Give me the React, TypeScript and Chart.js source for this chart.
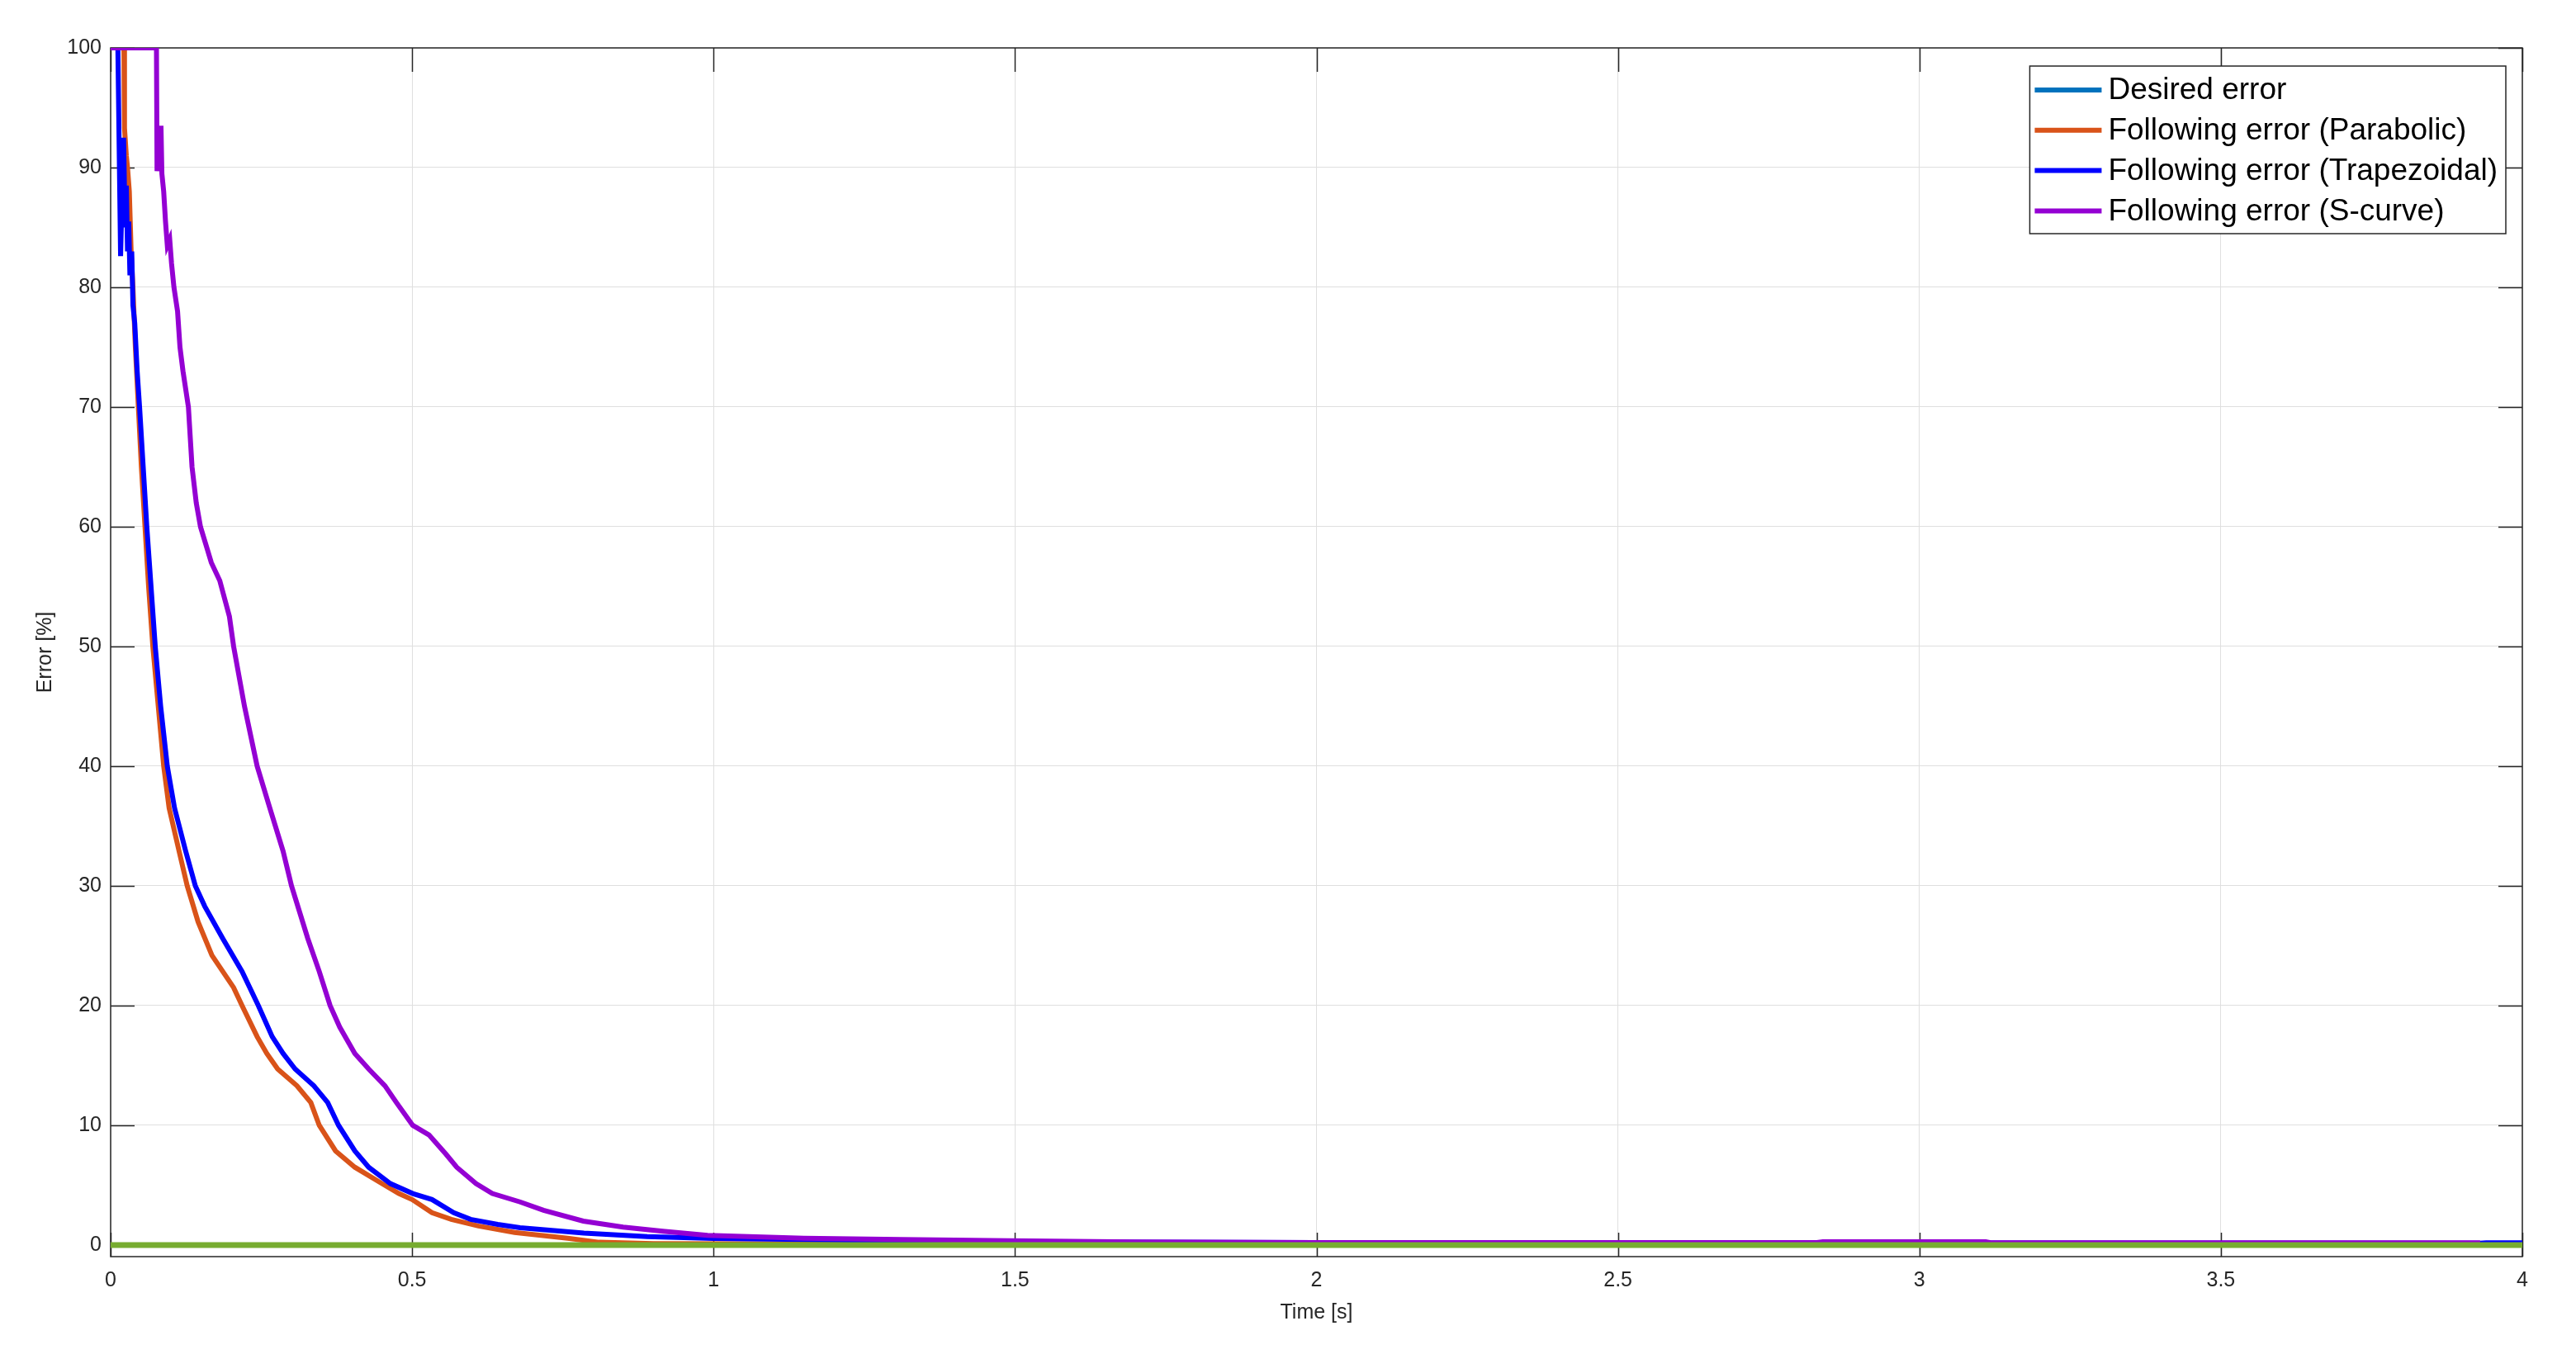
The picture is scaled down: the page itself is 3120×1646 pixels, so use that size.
import React, { useEffect, useRef } from "react";
import { Chart, registerables } from "chart.js";

Chart.register(...registerables);

// ---- tick values ----
const xTickValues = [0, 0.5, 1, 1.5, 2, 2.5, 3, 3.5, 4];
const yTickValues = [0, 10, 20, 30, 40, 50, 60, 70, 80, 90, 100];

// ---- series labels ----
const seriesLabels = [
  "Desired error",
  "Following error (Parabolic)",
  "Following error (Trapezoidal)",
  "Following error (S-curve)",
];

// ---- Desired error ----
const timeDesired = [0, 4];
const errDesired = [0, 0];

// ---- Reference (green, unlabeled) ----
const timeReference = [0, 4];
const errReference = [0, 0];

// ---- Parabolic ----
const timeParabolic = [
  0, 0.022, 0.023, 0.026, 0.028, 0.031, 0.034, 0.037, 0.041, 0.046, 0.051, 0.057, 0.063, 0.07, 0.079,
  0.088, 0.097, 0.1135, 0.127, 0.145, 0.168, 0.204, 0.218, 0.243, 0.259, 0.277, 0.309, 0.332, 0.346,
  0.373, 0.405, 0.45, 0.478, 0.5, 0.533, 0.565, 0.61, 0.67, 0.758, 0.81, 0.9, 1.2, 1.58, 1.6, 1.65,
  2.5, 4,
];
const errParabolic = [
  100, 100, 93.3, 91, 90, 88, 83, 80, 75, 70, 65, 60, 55, 50, 45,
  40, 36.5, 32.9, 30, 27, 24.2, 21.5, 20, 17.4, 16, 14.7, 13.3, 11.9, 10,
  7.86, 6.5, 5.13, 4.3, 3.8, 2.7, 2.14, 1.59, 1.05, 0.57, 0.23, 0.12, 0.08, 0.08, 0.12, 0.08,
  0.06, 0.05,
];

// ---- Trapezoidal ----
const timeTrapezoidal = [
  0, 0.012, 0.0165, 0.0215, 0.024, 0.026, 0.028, 0.03, 0.032, 0.035, 0.037, 0.04, 0.044, 0.048, 0.054,
  0.06, 0.067, 0.074, 0.083, 0.094, 0.106, 0.1245, 0.1405, 0.156, 0.186, 0.218, 0.245, 0.268, 0.286,
  0.306, 0.337, 0.36, 0.378, 0.405, 0.428, 0.464, 0.501, 0.533, 0.569, 0.597, 0.642, 0.679, 0.785,
  0.89, 1.0, 1.15, 1.3, 1.6, 2.0, 3.93, 3.94, 4,
];
const errTrapezoidal = [
  100, 100, 82.6, 92.5, 85, 88.5, 83, 85.5, 81, 83, 78.5, 77, 73, 70, 65,
  60, 55, 50, 45, 40, 36.5, 32.9, 30, 28.3, 25.6, 22.85, 20, 17.4, 16,
  14.7, 13.3, 11.9, 10, 7.86, 6.5, 5.13, 4.3, 3.8, 2.7, 2.14, 1.72, 1.45, 1.0,
  0.7, 0.55, 0.46, 0.35, 0.25, 0.2, 0.15, 0.18, 0.18,
];

// ---- S-curve ----
const timeSCurve = [
  0, 0.076, 0.077, 0.079, 0.081, 0.0835, 0.085, 0.088, 0.091, 0.094, 0.098, 0.101, 0.105, 0.111, 0.115,
  0.12, 0.129, 0.135, 0.142, 0.149, 0.158, 0.167, 0.181, 0.197, 0.204, 0.222, 0.243, 0.264, 0.286, 0.3,
  0.327, 0.346, 0.364, 0.38, 0.405, 0.428, 0.455, 0.474, 0.501, 0.528, 0.556, 0.574, 0.606, 0.633,
  0.679, 0.718, 0.784, 0.85, 0.916, 0.99, 1.15, 1.31, 1.49, 1.7, 2.0, 2.83, 2.84, 3.11, 3.12, 3.93,
];
const errSCurve = [
  100, 100, 89.7, 91, 92, 93.5, 89.5, 88, 85.5, 83.5, 84, 82, 80, 78, 75,
  73, 70, 65, 62, 60, 58.5, 57, 55.5, 52.5, 50, 45, 40, 36.5, 32.9, 30,
  25.6, 22.85, 20, 18.2, 16, 14.7, 13.3, 11.9, 10, 9.2, 7.6, 6.5, 5.13, 4.3,
  3.6, 2.9, 2.0, 1.5, 1.15, 0.8, 0.57, 0.46, 0.35, 0.25, 0.2, 0.2, 0.28, 0.28, 0.18, 0.18,
];

// ---- styles ----
const FONT = '"Liberation Sans", Arial, Helvetica, sans-serif';
const AXIS_COLOR = "#262626";
const GRID_COLOR = "#dfdfdf";
const colorDesired = "#0072BD";
const colorParabolic = "#D95319";
const colorTrapezoidal = "#0000FF";
const colorSCurve = "#9400D3";
const colorReference = "#77AC30";
const legendColors = [colorDesired, colorParabolic, colorTrapezoidal, colorSCurve];

const toPoints = (xs: number[], ys: number[]) => xs.map((x, i) => ({ x, y: ys[i] }));

const matlabAxesPlugin = {
  id: "matlabAxes",
  beforeDatasetsDraw(chart: any) {
    const { ctx, chartArea, scales } = chart;
    const { left, right, top, bottom } = chartArea;
    const tl = 29;
    ctx.save();
    ctx.strokeStyle = AXIS_COLOR;
    ctx.lineWidth = 1.5;
    ctx.beginPath();
    xTickValues.forEach((v) => {
      const px = Math.round(scales.x.getPixelForValue(v)) + 0.5;
      ctx.moveTo(px, bottom);
      ctx.lineTo(px, bottom - tl);
      ctx.moveTo(px, top);
      ctx.lineTo(px, top + tl);
    });
    yTickValues.forEach((v) => {
      const py = Math.round(scales.y.getPixelForValue(v)) + 0.5;
      ctx.moveTo(left, py);
      ctx.lineTo(left + tl, py);
      ctx.moveTo(right, py);
      ctx.lineTo(right - tl, py);
    });
    ctx.stroke();
    ctx.strokeRect(left, top, right - left, bottom - top);
    ctx.restore();
  },
  afterDatasetsDraw(chart: any) {
    const { ctx, chartArea } = chart;
    const { right, top } = chartArea;
    ctx.save();
    const fontSize = 37;
    ctx.font = `${fontSize}px ${FONT}`;
    let maxW = 0;
    seriesLabels.forEach((l) => {
      maxW = Math.max(maxW, ctx.measureText(l).width);
    });
    const rowH = 48.8;
    const boxRight = right - 20;
    const boxTop = top + 22;
    const sampleLen = 81;
    const padL = 6;
    const gap = 8;
    const boxW = padL + sampleLen + gap + maxW + 10;
    const boxH = 203;
    const boxLeft = boxRight - boxW;
    ctx.fillStyle = "#ffffff";
    ctx.fillRect(boxLeft, boxTop, boxW, boxH);
    ctx.strokeStyle = AXIS_COLOR;
    ctx.lineWidth = 1.5;
    ctx.strokeRect(boxLeft, boxTop, boxW, boxH);
    ctx.textBaseline = "middle";
    ctx.textAlign = "left";
    seriesLabels.forEach((l, i) => {
      const cy = boxTop + 29 + i * rowH;
      ctx.strokeStyle = legendColors[i];
      ctx.lineWidth = 6;
      ctx.beginPath();
      ctx.moveTo(boxLeft + padL, cy);
      ctx.lineTo(boxLeft + padL + sampleLen, cy);
      ctx.stroke();
      ctx.fillStyle = "#000000";
      ctx.fillText(l, boxLeft + padL + sampleLen + gap, cy + 1);
    });
    ctx.restore();
  },
};

export default function App() {
  const canvasRef = useRef<HTMLCanvasElement | null>(null);

  useEffect(() => {
    if (!canvasRef.current) return;
    const lineDs = (label: string, xs: number[], ys: number[], color: string, width: number, order: number) => ({
      label,
      data: toPoints(xs, ys),
      borderColor: color,
      backgroundColor: color,
      borderWidth: width,
      pointRadius: 0,
      tension: 0,
      fill: false,
      order,
    });
    const chart = new Chart(canvasRef.current, {
      type: "line",
      data: {
        datasets: [
          lineDs(seriesLabels[0], timeDesired, errDesired, colorDesired, 6, 5),
          lineDs(seriesLabels[1], timeParabolic, errParabolic, colorParabolic, 6, 4),
          lineDs(seriesLabels[2], timeTrapezoidal, errTrapezoidal, colorTrapezoidal, 6, 3),
          lineDs(seriesLabels[3], timeSCurve, errSCurve, colorSCurve, 6, 2),
          lineDs("", timeReference, errReference, colorReference, 7, 1),
        ],
      },
      options: {
        animation: false,
        responsive: true,
        maintainAspectRatio: false,
        devicePixelRatio: 1,
        layout: { padding: { left: 0, right: 65, top: 58, bottom: 0 } },
        plugins: {
          legend: { display: false },
          tooltip: { enabled: false },
        },
        scales: {
          x: {
            type: "linear",
            min: 0,
            max: 4,
            afterBuildTicks: (scale: any) => {
              scale.ticks = xTickValues.map((v) => ({ value: v }));
            },
            afterFit: (scale: any) => {
              scale.height = 124;
            },
            grid: { color: GRID_COLOR, lineWidth: 1, drawTicks: false },
            border: { display: false },
            ticks: {
              autoSkip: false,
              maxRotation: 0,
              padding: 14,
              color: AXIS_COLOR,
              font: { family: FONT, size: 25 },
              callback: (v: any) => String(v),
            },
            title: {
              display: true,
              text: "Time [s]",
              color: AXIS_COLOR,
              font: { family: FONT, size: 25 },
              padding: { top: 0, bottom: 41 },
            },
          },
          y: {
            type: "linear",
            min: -0.97,
            max: 100,
            afterBuildTicks: (scale: any) => {
              scale.ticks = yTickValues.map((v) => ({ value: v }));
            },
            afterFit: (scale: any) => {
              scale.width = 134;
            },
            grid: { color: GRID_COLOR, lineWidth: 1, drawTicks: false },
            border: { display: false },
            ticks: {
              autoSkip: false,
              padding: 11,
              color: AXIS_COLOR,
              font: { family: FONT, size: 25 },
              callback: (v: any) => String(v),
            },
            title: {
              display: true,
              text: "Error [%]",
              color: AXIS_COLOR,
              font: { family: FONT, size: 25 },
              padding: { top: 40, bottom: 0 },
            },
          },
        },
      },
      plugins: [matlabAxesPlugin],
    });
    return () => chart.destroy();
  }, []);

  return (
    <div style={{ position: "fixed", left: 0, top: 0, width: 3120, height: 1646, background: "#ffffff" }}>
      <canvas ref={canvasRef} />
    </div>
  );
}
